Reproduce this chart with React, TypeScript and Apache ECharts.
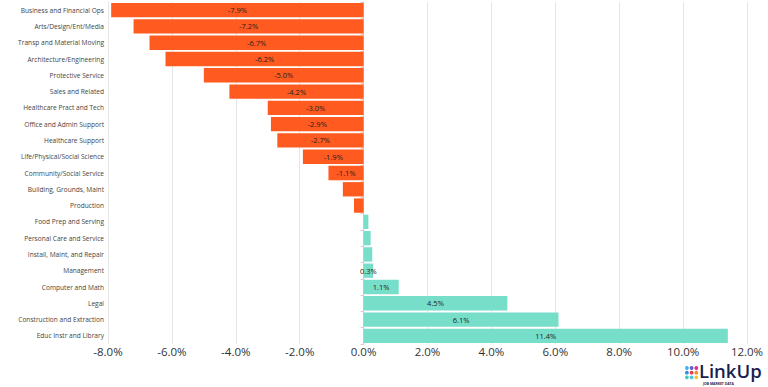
import React, { useEffect, useRef } from "react";
import * as echarts from "echarts";

const categories = [
  "Business and Financial Ops",
  "Arts/Design/Ent/Media",
  "Transp and Material Moving",
  "Architecture/Engineering",
  "Protective Service",
  "Sales and Related",
  "Healthcare Pract and Tech",
  "Office and Admin Support",
  "Healthcare Support",
  "Life/Physical/Social Science",
  "Community/Social Service",
  "Building, Grounds, Maint",
  "Production",
  "Food Prep and Serving",
  "Personal Care and Service",
  "Install, Maint, and Repair",
  "Management",
  "Computer and Math",
  "Legal",
  "Construction and Extraction",
  "Educ Instr and Library",
];

const values = [
  -7.9, -7.2, -6.7, -6.2, -5.0, -4.2, -3.0, -2.9, -2.7, -1.9, -1.1, -0.65, -0.3,
  0.15, 0.22, 0.27, 0.3, 1.1, 4.5, 6.1, 11.4,
];

const unlabeled = [
  "Building, Grounds, Maint",
  "Production",
  "Food Prep and Serving",
  "Personal Care and Service",
  "Install, Maint, and Repair",
];

const xTicks = [-8, -6, -4, -2, 0, 2, 4, 6, 8, 10, 12];

const ORANGE = "#FF5A1F";
const TEAL = "#77DEC9";

export default function App() {
  const ref = useRef<HTMLDivElement>(null);
  useEffect(() => {
    if (!ref.current) return;
    const chart = echarts.init(ref.current, null, { renderer: "svg" });
    const font = "'Open Sans', sans-serif";
    chart.setOption({
      animation: false,
      textStyle: { fontFamily: font },
      grid: { left: 108, right: 21, top: 2, bottom: 43, containLabel: false },
      xAxis: {
        type: "value",
        min: xTicks[0],
        max: xTicks[xTicks.length - 1],
        interval: 2,
        axisLine: { show: false },
        axisTick: { show: false },
        splitLine: { show: true, lineStyle: { color: "#e6e6e6", width: 1 } },
        axisLabel: {
          formatter: (v: number) => v.toFixed(1) + "%",
          fontSize: 11.5,
          color: "#333",
          margin: 1,
          fontFamily: font,
        },
      },
      yAxis: [
        {
          type: "category",
          inverse: true,
          data: categories,
          axisLine: { show: false, onZero: false },
          axisTick: { show: false },
          axisLabel: { fontSize: 6.6, color: "#444", margin: 4, fontFamily: font },
        },
        {
          type: "category",
          inverse: true,
          data: categories,
          position: "left",
          axisLine: { show: true, onZero: true, lineStyle: { color: "#cfcfcf", width: 1 } },
          axisTick: { show: true, length: 3, lineStyle: { color: "#cfcfcf" } },
          axisLabel: { show: false },
        },
      ],
      series: [
        {
          type: "bar",
          yAxisIndex: 0,
          barCategoryGap: "12%",
          z: 3,
          data: values.map((v, i) => ({
            value: v,
            itemStyle: { color: v < 0 ? ORANGE : TEAL },
            label: { show: unlabeled.indexOf(categories[i]) < 0 },
          })),
          label: {
            position: "inside",
            formatter: (p: any) => p.value.toFixed(1) + "%",
            fontSize: 7.5,
            color: "#222",
            fontFamily: font,
          },
        },
      ],
      graphic: [
        {
          type: "group",
          left: 685,
          top: 361,
          children: [
            ...[
              ["#3fb5f0", "#6a5acd", "#d6338f"],
              ["#2f8ee0", "#e8364f", "#f28b2e"],
              ["#48c9c0", "#49c6e5", "#f5c431"],
            ].flatMap((row, r) =>
              row.map((c, k) => ({
                type: "circle",
                shape: { cx: k * 4.7 + 2, cy: r * 4.7 + 3, r: 1.9 },
                style: { fill: c },
              }))
            ),
            {
              type: "text",
              x: 14,
              y: -2,
              style: {
                text: "LinkUp",
                fontSize: 18.5,
                lineHeight: 15,
                fontWeight: 600,
                fill: "#1b1f4d",
                fontFamily: "'Open Sans', sans-serif",
              },
            },
            {
              type: "text",
              x: 18,
              y: 16.5,
              style: {
                text: "JOB MARKET DATA",
                fontSize: 3.4,
                lineHeight: 4,
                fontWeight: "bold",
                fill: "#1b1f4d",
                fontFamily: "'Open Sans', sans-serif",
              },
            },
          ],
        },
      ],
    });
    return () => chart.dispose();
  }, []);
  return <div ref={ref} style={{ width: 768, height: 387, position: "absolute", left: 0, top: 0 }} />;
}
